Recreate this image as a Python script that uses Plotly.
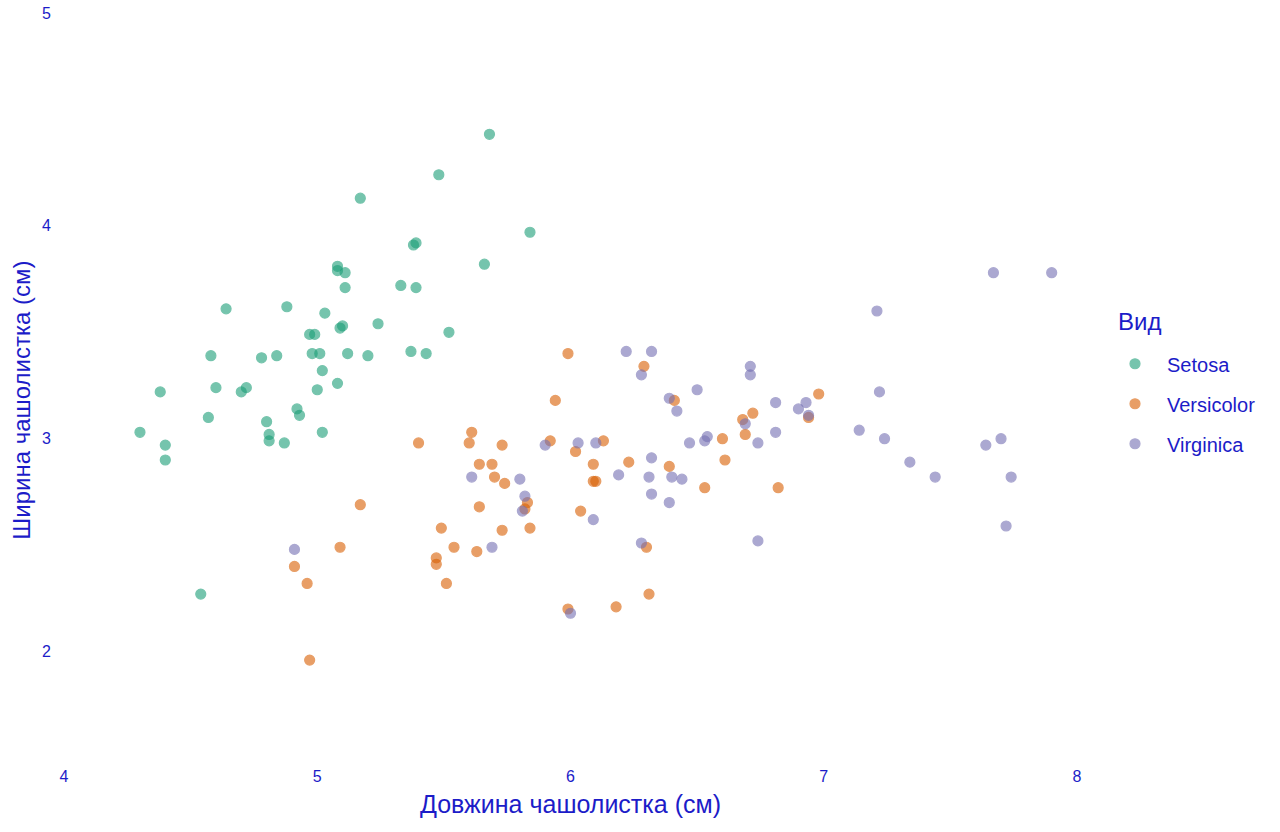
import plotly.graph_objects as go

species = ["Setosa", "Versicolor", "Virginica"]
colors = ["#1B9E77", "#D95F02", "#7570B3"]

setosa_x = [5.68, 5.48, 5.17, 5.84, 5.39, 5.38, 5.66, 5.33, 5.39, 5.52,
            5.37, 5.43, 5.08, 5.08, 5.11, 5.11, 4.64, 4.88, 5.03, 5.24,
            5.10, 5.09, 4.97, 4.99, 4.58, 4.78, 4.84, 4.98, 5.01, 5.12,
            5.20, 5.02, 4.38, 4.60, 4.70, 4.72, 5.00, 5.08, 4.92, 4.93,
            4.57, 4.30, 4.80, 4.81, 4.81, 4.87, 5.02, 4.40, 4.40, 4.54]
setosa_y = [4.43, 4.24, 4.13, 3.97, 3.92, 3.91, 3.82, 3.72, 3.71, 3.50,
            3.41, 3.40, 3.81, 3.79, 3.78, 3.71, 3.61, 3.62, 3.59, 3.54,
            3.53, 3.52, 3.49, 3.49, 3.39, 3.38, 3.39, 3.40, 3.40, 3.40,
            3.39, 3.32, 3.22, 3.24, 3.22, 3.24, 3.23, 3.26, 3.14, 3.11,
            3.10, 3.03, 3.08, 3.02, 2.99, 2.98, 3.03, 2.97, 2.90, 2.27]

versicolor_x = [5.40, 5.61, 5.60, 5.64, 5.17, 5.49, 5.09, 5.54, 5.47, 5.47,
                5.63, 4.91, 4.96, 5.51, 4.97, 5.64, 5.94, 5.73, 5.92, 6.02,
                6.13, 5.69, 5.70, 5.74, 6.09, 6.09, 6.10, 6.23, 5.83, 5.82,
                6.04, 5.73, 5.84, 6.30, 6.31, 6.18, 5.99, 6.29, 6.41, 6.98,
                6.72, 6.68, 6.94, 6.69, 6.60, 6.39, 6.61, 6.53, 6.82, 5.99]
versicolor_y = [2.98, 3.03, 2.98, 2.88, 2.69, 2.58, 2.49, 2.49, 2.44, 2.41,
                2.47, 2.40, 2.32, 2.32, 1.96, 2.68, 3.18, 2.97, 2.99, 2.94,
                2.99, 2.88, 2.82, 2.79, 2.88, 2.80, 2.80, 2.89, 2.70, 2.67,
                2.66, 2.57, 2.58, 2.49, 2.27, 2.21, 2.20, 3.34, 3.18, 3.21,
                3.12, 3.09, 3.10, 3.02, 3.00, 2.87, 2.90, 2.77, 2.77, 3.40]

virginica_x = [5.61, 4.91, 5.90, 6.03, 6.10, 5.80, 6.19, 5.82, 5.81, 6.09,
               5.69, 6.28, 6.00, 6.22, 6.32, 6.28, 6.71, 6.71, 6.39, 6.50,
               6.42, 6.81, 6.93, 6.90, 6.94, 6.69, 6.81, 6.74, 6.47, 6.53,
               6.54, 6.32, 6.31, 6.40, 6.44, 6.32, 6.39, 6.74, 7.67, 7.90,
               7.21, 7.22, 7.14, 7.24, 7.64, 7.70, 7.34, 7.44, 7.74, 7.72]
virginica_y = [2.82, 2.48, 2.97, 2.98, 2.98, 2.81, 2.83, 2.73, 2.66, 2.62,
               2.49, 2.51, 2.18, 3.41, 3.41, 3.30, 3.34, 3.30, 3.19, 3.23,
               3.13, 3.17, 3.17, 3.14, 3.11, 3.07, 3.03, 2.98, 2.98, 2.99,
               3.01, 2.91, 2.82, 2.82, 2.81, 2.74, 2.70, 2.52, 3.78, 3.78,
               3.60, 3.22, 3.04, 3.00, 2.97, 3.00, 2.89, 2.82, 2.82, 2.59]

xs = [setosa_x, versicolor_x, virginica_x]
ys = [setosa_y, versicolor_y, virginica_y]

text_color = "#1c1cc8"
font_family = "Liberation Sans, Arial, sans-serif"

# figure fills the whole page (body margin removed below)
W, H = 1280, 832
# plot area in page pixels
P_LEFT, P_RIGHT, P_TOP, P_BOTTOM = 64, 1077, 13, 758.5
ML = P_LEFT
MR = W - P_RIGHT
MT = P_TOP
MB = H - P_BOTTOM
PW, PH = W - ML - MR, H - MT - MB

def px_to_paper_x(px):
    return (px - P_LEFT) / PW

def px_to_paper_y(py):
    return (P_BOTTOM - py) / PH

fig = go.Figure()
for name, color, x, y in zip(species, colors, xs, ys):
    fig.add_trace(go.Scatter(
        x=x, y=y, mode="markers", name=name, legendgroup=name,
        marker=dict(size=10, color=color, opacity=0.6,
                    line=dict(color=color, width=1.2)),
    ))

fig.add_annotation(
    text="Ширина чашолистка (см)", textangle=-90,
    xref="paper", yref="paper",
    x=px_to_paper_x(22), y=px_to_paper_y(401),
    xanchor="center", yanchor="middle", showarrow=False,
    font=dict(size=24, color=text_color),
)
fig.add_annotation(
    text="Вид",
    xref="paper", yref="paper",
    x=px_to_paper_x(1116), y=px_to_paper_y(322),
    xanchor="left", yanchor="middle", showarrow=False,
    font=dict(size=24, color=text_color),
)

fig.update_layout(
    width=W, height=H,
    paper_bgcolor="white", plot_bgcolor="white",
    margin=dict(l=ML, r=MR, t=MT, b=MB, autoexpand=False),
    font=dict(family=font_family, color=text_color, size=16),
    xaxis=dict(
        range=[4, 8], tickvals=[4, 5, 6, 7, 8], showgrid=False,
        zeroline=False, showline=False, automargin=False,
        ticks="outside", ticklen=4, tickcolor="rgba(0,0,0,0)",
        ticklabeloverflow="allow",
        tickfont=dict(size=16, color=text_color),
        title=dict(text="Довжина чашолистка (см)",
                   font=dict(size=25, color=text_color), standoff=11),
    ),
    yaxis=dict(
        range=[1.5, 5], tickvals=[2, 3, 4, 5], showgrid=False,
        zeroline=False, showline=False, automargin=False,
        ticks="outside", ticklen=9, tickcolor="rgba(0,0,0,0)",
        ticklabeloverflow="allow",
        tickfont=dict(size=16, color=text_color),
    ),
    legend=dict(
        font=dict(size=20, color=text_color),
        x=px_to_paper_x(1103), y=px_to_paper_y(404),
        xanchor="left", yanchor="middle",
        tracegroupgap=11, itemwidth=54,
    ),
)

fig.write_html(
    "out.html",
    config={"displayModeBar": False},
    post_script="document.body.style.margin='0';document.body.style.overflow='hidden';",
)
